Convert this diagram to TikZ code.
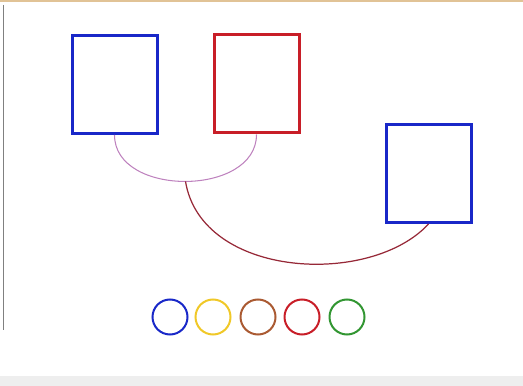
\documentclass[tikz,border=0pt]{standalone}
\usepackage{tikz}

\definecolor{boxblue}{RGB}{25,40,200}
\definecolor{boxred}{RGB}{200,30,40}
\definecolor{arcpink}{RGB}{190,130,190}
\definecolor{arcbrown}{RGB}{150,40,55}
\definecolor{ringyellow}{RGB}{240,200,40}
\definecolor{ringbrown}{RGB}{170,90,50}
\definecolor{ringgreen}{RGB}{50,150,50}
\definecolor{edgetan}{RGB}{225,195,150}
\definecolor{edgegray}{RGB}{238,238,238}

\begin{document}
\begin{tikzpicture}[
    card/.style={draw, line width=0.06cm, minimum width=1.7cm, minimum height=1.96cm, inner sep=0pt},
    ring/.style={draw, circle, line width=0.04cm, minimum size=0.7cm, inner sep=0pt}
    ]
        \useasboundingbox (0,0) rectangle (10.46,-7.72);
        \fill[edgetan] (0,0) rectangle (10.46,-0.05);
        \fill[edgegray] (0,-7.52) rectangle (10.46,-7.72);
        \draw[gray, line width=0.5pt] (0.07,-0.1) -- (0.07,-6.6);

        \node[card, boxblue] (left) at (2.29,-1.69) {};
        \node[card, boxred] (middle) at (5.13,-1.68) {};
        \node[card, boxblue] (right) at (8.57,-3.47) {};

        \draw[arcpink, line width=0.6pt] (left.south) to[out=-90,in=-90,looseness=1.12] coordinate[pos=0.5] (dip) (middle.south);
        \draw[arcbrown, line width=0.7pt] (dip) .. controls +(0.32,-1.94) and +(-1.16,-1.26) .. (right.south);

        \node[ring, boxblue] (r1) at (3.40,-6.34) {};
        \node[ring, ringyellow] (r2) at (4.26,-6.34) {};
        \node[ring, ringbrown] (r3) at (5.16,-6.34) {};
        \node[ring, boxred] (r4) at (6.04,-6.34) {};
        \node[ring, ringgreen] (r5) at (6.94,-6.34) {};

    \end{tikzpicture}
\end{document}
